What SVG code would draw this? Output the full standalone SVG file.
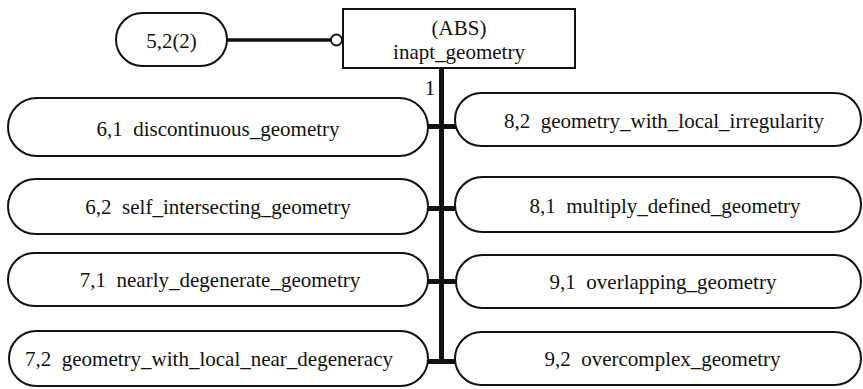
<svg xmlns="http://www.w3.org/2000/svg" width="863" height="389" viewBox="0 0 863 389">
<style>
  .pill { fill: #fff; stroke: #111; stroke-width: 2; }
  .box { fill: #fff; stroke: #111; stroke-width: 2; }
  text { font-family: "Liberation Serif", "Times New Roman", serif; font-size: 21px; fill: #111; text-anchor: middle; white-space: pre; }
  .thick { stroke: #111; stroke-width: 5; fill: none; }
  .med { stroke: #111; stroke-width: 3.5; fill: none; }
</style>
<rect x="0" y="0" width="863" height="389" fill="#fff"/>
<g id="connectors">
  <line class="med" x1="227" y1="40" x2="331" y2="40"/>
  <circle cx="336.5" cy="40" r="5.5" fill="#fff" stroke="#111" stroke-width="1.8"/>
  <line class="thick" x1="441.5" y1="68" x2="441.5" y2="364"/>
  <line class="thick" x1="426" y1="126.5" x2="457" y2="126.5"/>
  <line class="thick" x1="426" y1="208.5" x2="457" y2="208.5"/>
  <line class="thick" x1="426" y1="281.5" x2="457" y2="281.5"/>
  <line class="thick" x1="426" y1="361.5" x2="457" y2="361.5"/>
  <text x="430" y="95">1</text>
</g>
<g id="ref52">
  <rect class="pill" x="116" y="13" width="111" height="53" rx="26.5"/>
  <text x="171.5" y="48">5,2(2)</text>
</g>
<g id="inapt_geometry">
  <rect class="box" x="343" y="9" width="232" height="59"/>
  <text x="459" y="35">(ABS)</text>
  <text x="459" y="59">inapt_geometry</text>
</g>
<g id="discontinuous_geometry">
  <rect class="pill" x="8" y="98" width="420" height="58" rx="29"/>
  <text x="218" y="135.5">6,1  discontinuous_geometry</text>
</g>
<g id="self_intersecting_geometry">
  <rect class="pill" x="8" y="179" width="420" height="55" rx="27.5"/>
  <text x="218" y="213.5">6,2  self_intersecting_geometry</text>
</g>
<g id="nearly_degenerate_geometry">
  <rect class="pill" x="8" y="253" width="420" height="53" rx="26.5"/>
  <text x="220" y="286.5">7,1  nearly_degenerate_geometry</text>
</g>
<g id="geometry_with_local_near_degeneracy">
  <rect class="pill" x="9" y="331" width="419" height="55" rx="27.5"/>
  <text x="209" y="366">7,2  geometry_with_local_near_degeneracy</text>
</g>
<g id="geometry_with_local_irregularity">
  <rect class="pill" x="455" y="93" width="406" height="53" rx="26.5"/>
  <text x="664" y="127.5">8,2  geometry_with_local_irregularity</text>
</g>
<g id="multiply_defined_geometry">
  <rect class="pill" x="455" y="177" width="406" height="55" rx="27.5"/>
  <text x="665" y="213">8,1  multiply_defined_geometry</text>
</g>
<g id="overlapping_geometry">
  <rect class="pill" x="456" y="255" width="405" height="53" rx="26.5"/>
  <text x="663" y="289">9,1  overlapping_geometry</text>
</g>
<g id="overcomplex_geometry">
  <rect class="pill" x="455" y="332" width="406" height="53" rx="26.5"/>
  <text x="662.5" y="366">9,2  overcomplex_geometry</text>
</g>
</svg>
